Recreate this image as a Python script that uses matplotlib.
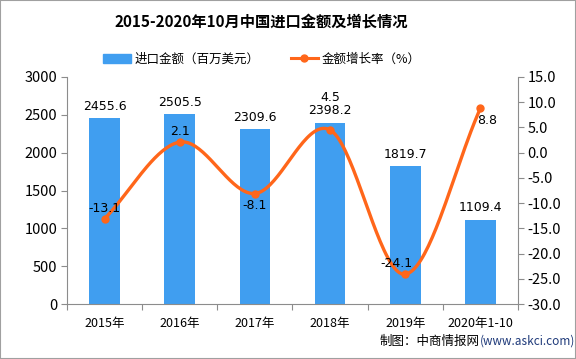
import numpy as np
import matplotlib
matplotlib.use("Agg")
import matplotlib.pyplot as plt
from matplotlib.lines import Line2D
from matplotlib.patches import Patch

plt.rcParams['font.family'] = ['Noto Sans CJK SC', 'DejaVu Sans']

categories = ["2015年", "2016年", "2017年", "2018年", "2019年", "2020年1-10"]
import_values = [2455.6, 2505.5, 2309.6, 2398.2, 1819.7, 1109.4]
growth_rates = [-13.1, 2.1, -8.1, 4.5, -24.1, 8.8]

bar_color = "#409EF0"
line_color = "#FF661A"
axis_color = "#8C8C8C"

fig = plt.figure(figsize=(5.76, 3.59), dpi=100)
ax = fig.add_axes([67/576, 1-304/359, (518-67)/576, (304-77)/359])
ax2 = ax.twinx()

x = np.arange(len(categories))
ax.bar(x, import_values, width=0.41, color=bar_color, zorder=2)
ax.set_xlim(-0.5, len(categories) - 0.5)
ax.set_ylim(0, 3000)
ax.set_yticks(np.arange(0, 3001, 500))

# smooth curve (Catmull-Rom) through data points
def catmull(xs, ys, n=40):
    xs = np.asarray(xs, float); ys = np.asarray(ys, float)
    P = np.column_stack([xs, ys])
    P = np.vstack([P[0] - (P[1] - P[0]), P, P[-1] + (P[-1] - P[-2])])
    out = []
    for i in range(1, len(P) - 2):
        p0, p1, p2, p3 = P[i-1], P[i], P[i+1], P[i+2]
        t = np.linspace(0, 1, n)[:, None]
        seg = 0.5 * ((2*p1) + (-p0 + p2)*t + (2*p0 - 5*p1 + 4*p2 - p3)*t**2 + (-p0 + 3*p1 - 3*p2 + p3)*t**3)
        out.append(seg if i == len(P) - 3 else seg[:-1])
    out = np.vstack(out)
    return out[:, 0], out[:, 1]

sx, sy = catmull(x, growth_rates)
ax2.plot(sx, sy, color=line_color, lw=2.4, zorder=3, solid_capstyle='round')
ax2.plot(x, growth_rates, 'o', color=line_color, ms=5, zorder=4)
ax2.set_ylim(-30, 15)
ax2.set_yticks(np.arange(-30, 15.1, 5))
ax2.set_yticklabels([f"{v:.1f}" for v in np.arange(-30, 15.1, 5)])

ax.set_zorder(1); ax2.set_zorder(2)
ax.patch.set_visible(False)

# x ticks at category boundaries, labels at centers
ax.set_xticks(np.arange(-0.5, len(categories), 1.0))
ax.set_xticklabels([])
ax.set_xticks(x, minor=True)
ax.set_xticklabels(categories, minor=True)
ax.tick_params(axis='x', which='minor', length=0, pad=9, labelsize=9)
ax.tick_params(axis='x', which='major', length=4, color=axis_color)
ax.tick_params(axis='y', length=4, color=axis_color, labelsize=10.5, pad=3)
ax2.tick_params(axis='y', length=4, color=axis_color, labelsize=10.5, pad=3)

for a in (ax, ax2):
    a.spines['top'].set_visible(False)
    for s in ('left', 'right', 'bottom'):
        a.spines[s].set_color(axis_color)
ax2.spines['left'].set_visible(False)
ax.spines['right'].set_visible(False)
ax2.spines['bottom'].set_visible(False)

# bar labels
for xi, v in zip(x, import_values):
    ax.annotate(f"{v:.1f}", (xi, v), xytext=(0, 4), textcoords='offset points',
                ha='center', va='bottom', fontsize=9, family=['DejaVu Sans'], zorder=5)

# line labels
label_offsets = [(0, 3), (0, 3), (0, -4), (0, 19), (-6, 3), (5, -4)]
for xi, v, (dx, dy) in zip(x, growth_rates, label_offsets):
    ax2.annotate(f"{v:.1f}", (xi, v), xytext=(dx, dy), textcoords='offset points',
                 ha='center', va='bottom' if dy > 0 else 'top', fontsize=9,
                 family=['DejaVu Sans'], zorder=6)

fig.text(261/576, 1-22/359, "2015-2020年10月中国进口金额及增长情况", ha='center', va='center',
         fontsize=11, fontweight='bold')

handles = [Patch(color=bar_color), Line2D([0], [0], color=line_color, lw=2.2, marker='o', ms=5)]
fig.legend(handles, ["进口金额（百万美元）", "金额增长率（%）"], loc='center',
           bbox_to_anchor=(262/576, 1-59/359), ncol=2, frameon=False, fontsize=9,
           handlelength=2.2, handletextpad=0.3, columnspacing=2.5)

fig.text(380/576, 1-341/359, "制图：中商情报网", ha='left', va='center', fontsize=9)
fig.text(480/576, 1-341/359, "(www.askci.com)", ha='left', va='center', fontsize=8.5, color='#1F3A7A')

fig.add_artist(plt.Rectangle((0, 0), 1, 1, transform=fig.transFigure, fill=False,
                             edgecolor='#A0A0A0', lw=1.5))

fig.savefig("out.png", dpi=100)
